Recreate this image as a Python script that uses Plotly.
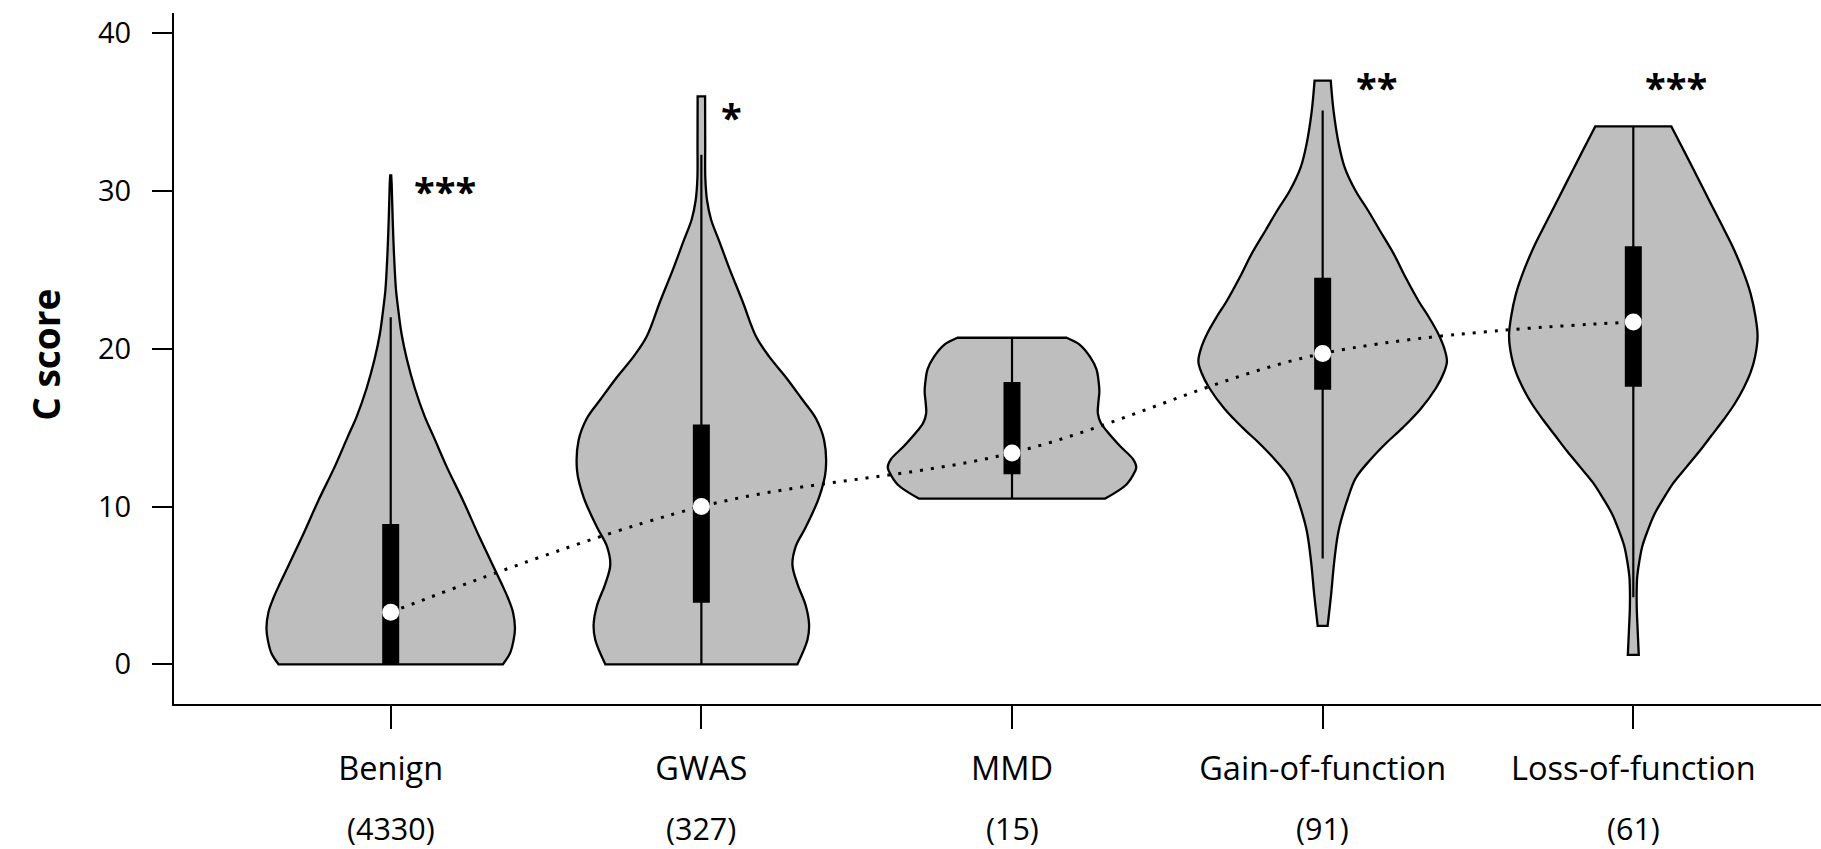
import plotly.graph_objects as go

# ---------------- data ----------------
categories = ["Benign", "GWAS", "MMD", "Gain-of-function", "Loss-of-function"]
counts = ["(4330)", "(327)", "(15)", "(91)", "(61)"]
stars = ["***", "*", "", "**", "***"]

# density profiles (C score, relative density width)
benign_y = [0, 0.7, 1.5, 2.3, 3.3, 4.2, 5.2, 8, 10.4, 12.5, 14.4, 15.7, 17.5, 19.3, 21, 22.6, 23.7, 25.9, 28.2, 30.4, 31]
benign_d = [0.903, 0.960, 0.988, 1.0, 0.984, 0.944, 0.887, 0.718, 0.581, 0.452, 0.347, 0.274, 0.194, 0.131,
            0.086, 0.059, 0.043, 0.027, 0.016, 0.008, 0.004]

gwas_y = [0, 1.55, 2.5, 3.7, 5.1, 6.3, 7.5, 8.7, 10.6, 12.25, 14.2, 15.6, 16.8, 18.2, 19.5, 20.8, 23, 25.1,
          26.8, 28.2, 29.4, 30.8, 33, 36]
gwas_d = [0.773, 0.854, 0.867, 0.841, 0.773, 0.733, 0.761, 0.841, 0.948, 1.0, 0.988, 0.921, 0.811, 0.680,
          0.546, 0.439, 0.332, 0.225, 0.145, 0.078, 0.046, 0.032, 0.031, 0.030]

mmd_y = [10.5, 11.4, 12.2, 12.5, 13.0, 13.85, 14.8, 15.3, 15.9, 16.6, 17.3, 18.05, 18.7, 19.5, 20.25, 20.7]
mmd_d = [0.747, 0.921, 0.988, 1.0, 0.974, 0.867, 0.761, 0.715, 0.691, 0.695, 0.703, 0.695, 0.680, 0.627,
         0.546, 0.439]

gof_y = [2.44, 4.5, 6.5, 8.5, 10.5, 11.8, 13.0, 14.0, 15.0, 16.2, 17.5, 18.5, 19.2, 20.0, 21.0, 22.0, 23.0,
         24.5, 26.0, 27.5, 28.8, 30.0, 31.5, 33.0, 35.0, 37.0]
gof_d = [0.040, 0.069, 0.093, 0.129, 0.202, 0.266, 0.387, 0.508, 0.645, 0.790, 0.911, 0.976, 1.0, 0.980,
         0.927, 0.855, 0.774, 0.669, 0.573, 0.460, 0.363, 0.266, 0.177, 0.129, 0.089, 0.065]

lof_y = [0.6, 2.0, 3.5, 4.5, 5.5, 6.5, 7.5, 8.5, 9.5, 10.5, 11.5, 12.5, 13.5, 14.5, 15.5, 16.5, 17.5, 18.5,
         19.5, 20.8, 22.0, 23.5, 25.0, 26.5, 28.0, 29.5, 31.0, 32.5, 34.1]
lof_d = [0.044, 0.036, 0.028, 0.027, 0.031, 0.048, 0.073, 0.117, 0.169, 0.242, 0.323, 0.427, 0.532, 0.629,
         0.726, 0.815, 0.887, 0.944, 0.980, 1.0, 0.984, 0.944, 0.879, 0.798, 0.702, 0.605, 0.508, 0.411, 0.306]

# box statistics
q1 = [0, 3.9, 12.05, 17.4, 17.6]
median = [3.3, 10.0, 13.4, 19.7, 21.7]
q3 = [8.9, 15.2, 17.9, 24.5, 26.5]
whisker_lo = [0, 0, 10.5, 6.7, 4.25]
whisker_hi = [22.0, 32.3, 20.7, 35.1, 34.1]

profiles = [(benign_y, benign_d), (gwas_y, gwas_d), (mmd_y, mmd_d), (gof_y, gof_d), (lof_y, lof_d)]

# ---------------- style ----------------
HALF_W = 0.40
FILL = "#bebebe"
FONT = "Open Sans"
xpos = list(range(len(categories)))

fig = go.Figure()

for i, (ys, ds) in enumerate(profiles):
    left = [xpos[i] - d * HALF_W for d in ds]
    right = [xpos[i] + d * HALF_W for d in ds]
    # closed outline: left side upward, right side downward; corner points are repeated so the
    # spline keeps the flat top/bottom edges sharp
    px = [left[0]] + left + [left[-1], right[-1]] + right[::-1] + [right[0], left[0]]
    py = [ys[0]] + ys + [ys[-1], ys[-1]] + ys[::-1] + [ys[0], ys[0]]
    fig.add_trace(go.Scatter(x=px, y=py, mode="lines", fill="toself", fillcolor=FILL,
                             line=dict(color="black", width=2.3, shape="spline", smoothing=1, simplify=False),
                             hoverinfo="skip", showlegend=False))

# dotted line through medians
fig.add_trace(go.Scatter(x=xpos, y=median, mode="lines",
                         line=dict(color="black", width=3, dash="3px,8px", shape="spline", smoothing=1),
                         hoverinfo="skip", showlegend=False))

# whiskers
wx, wy = [], []
for i in xpos:
    wx += [i, i, None]
    wy += [whisker_lo[i], whisker_hi[i], None]
fig.add_trace(go.Scatter(x=wx, y=wy, mode="lines", line=dict(color="black", width=2.2),
                         hoverinfo="skip", showlegend=False))

# interquartile boxes (thick butt-capped segments)
bx, by = [], []
for i in xpos:
    bx += [i, i, None]
    by += [q1[i], q3[i], None]
fig.add_trace(go.Scatter(x=bx, y=by, mode="lines", line=dict(color="black", width=17),
                         hoverinfo="skip", showlegend=False))

# medians
fig.add_trace(go.Scatter(x=xpos, y=median, mode="markers",
                         marker=dict(color="white", size=17, line=dict(width=0)),
                         hoverinfo="skip", showlegend=False))

annotations = []
star_dx = [0.175, 0.096, 0, 0.174, 0.138]
star_y = [30.3, 35.0, 0, 36.9, 36.9]
for i, s in enumerate(stars):
    if s:
        annotations.append(dict(x=xpos[i] + star_dx[i], y=star_y[i], xref="x", yref="y", text=s,
                                showarrow=False, xanchor="center", yanchor="middle", yshift=-5,
                                font=dict(family=FONT, size=38, color="black", weight="bold")))
for i, c in enumerate(counts):
    annotations.append(dict(x=xpos[i], y=-0.1795, xref="x", yref="paper", text=c, showarrow=False,
                            xanchor="center", yanchor="middle",
                            font=dict(family=FONT, size=30.5, color="black")))
annotations.append(dict(x=-0.0785, y=0.505, xref="paper", yref="paper", text="C score", textangle=-90,
                        showarrow=False, xanchor="center", yanchor="middle",
                        font=dict(family=FONT, size=37, color="black", weight="bold")))

fig.update_layout(
    width=1821, height=849,
    margin=dict(l=174, r=0, t=13, b=145, pad=0),
    paper_bgcolor="white", plot_bgcolor="white",
    showlegend=False,
    annotations=annotations,
    xaxis=dict(range=[-0.6976, 4.6042], tickvals=xpos, ticktext=categories, ticks="outside", ticklen=23,
               tickwidth=2, tickcolor="black", showline=True, linewidth=2, linecolor="black",
               showgrid=False, zeroline=False, tickfont=dict(family=FONT, size=32.5, color="black"),
               ticklabelstandoff=12),
    yaxis=dict(range=[-2.517, 41.287], tickvals=[0, 10, 20, 30, 40], ticks="outside", ticklen=20,
               tickwidth=2, tickcolor="black", showline=True, linewidth=2, linecolor="black",
               showgrid=False, zeroline=False, tickfont=dict(family=FONT, size=29, color="black"),
               ticklabelstandoff=15),
)

fig.write_html("out.html", config={"displayModeBar": False},
               post_script="document.body.style.margin='0px';document.body.style.overflow='hidden';")
